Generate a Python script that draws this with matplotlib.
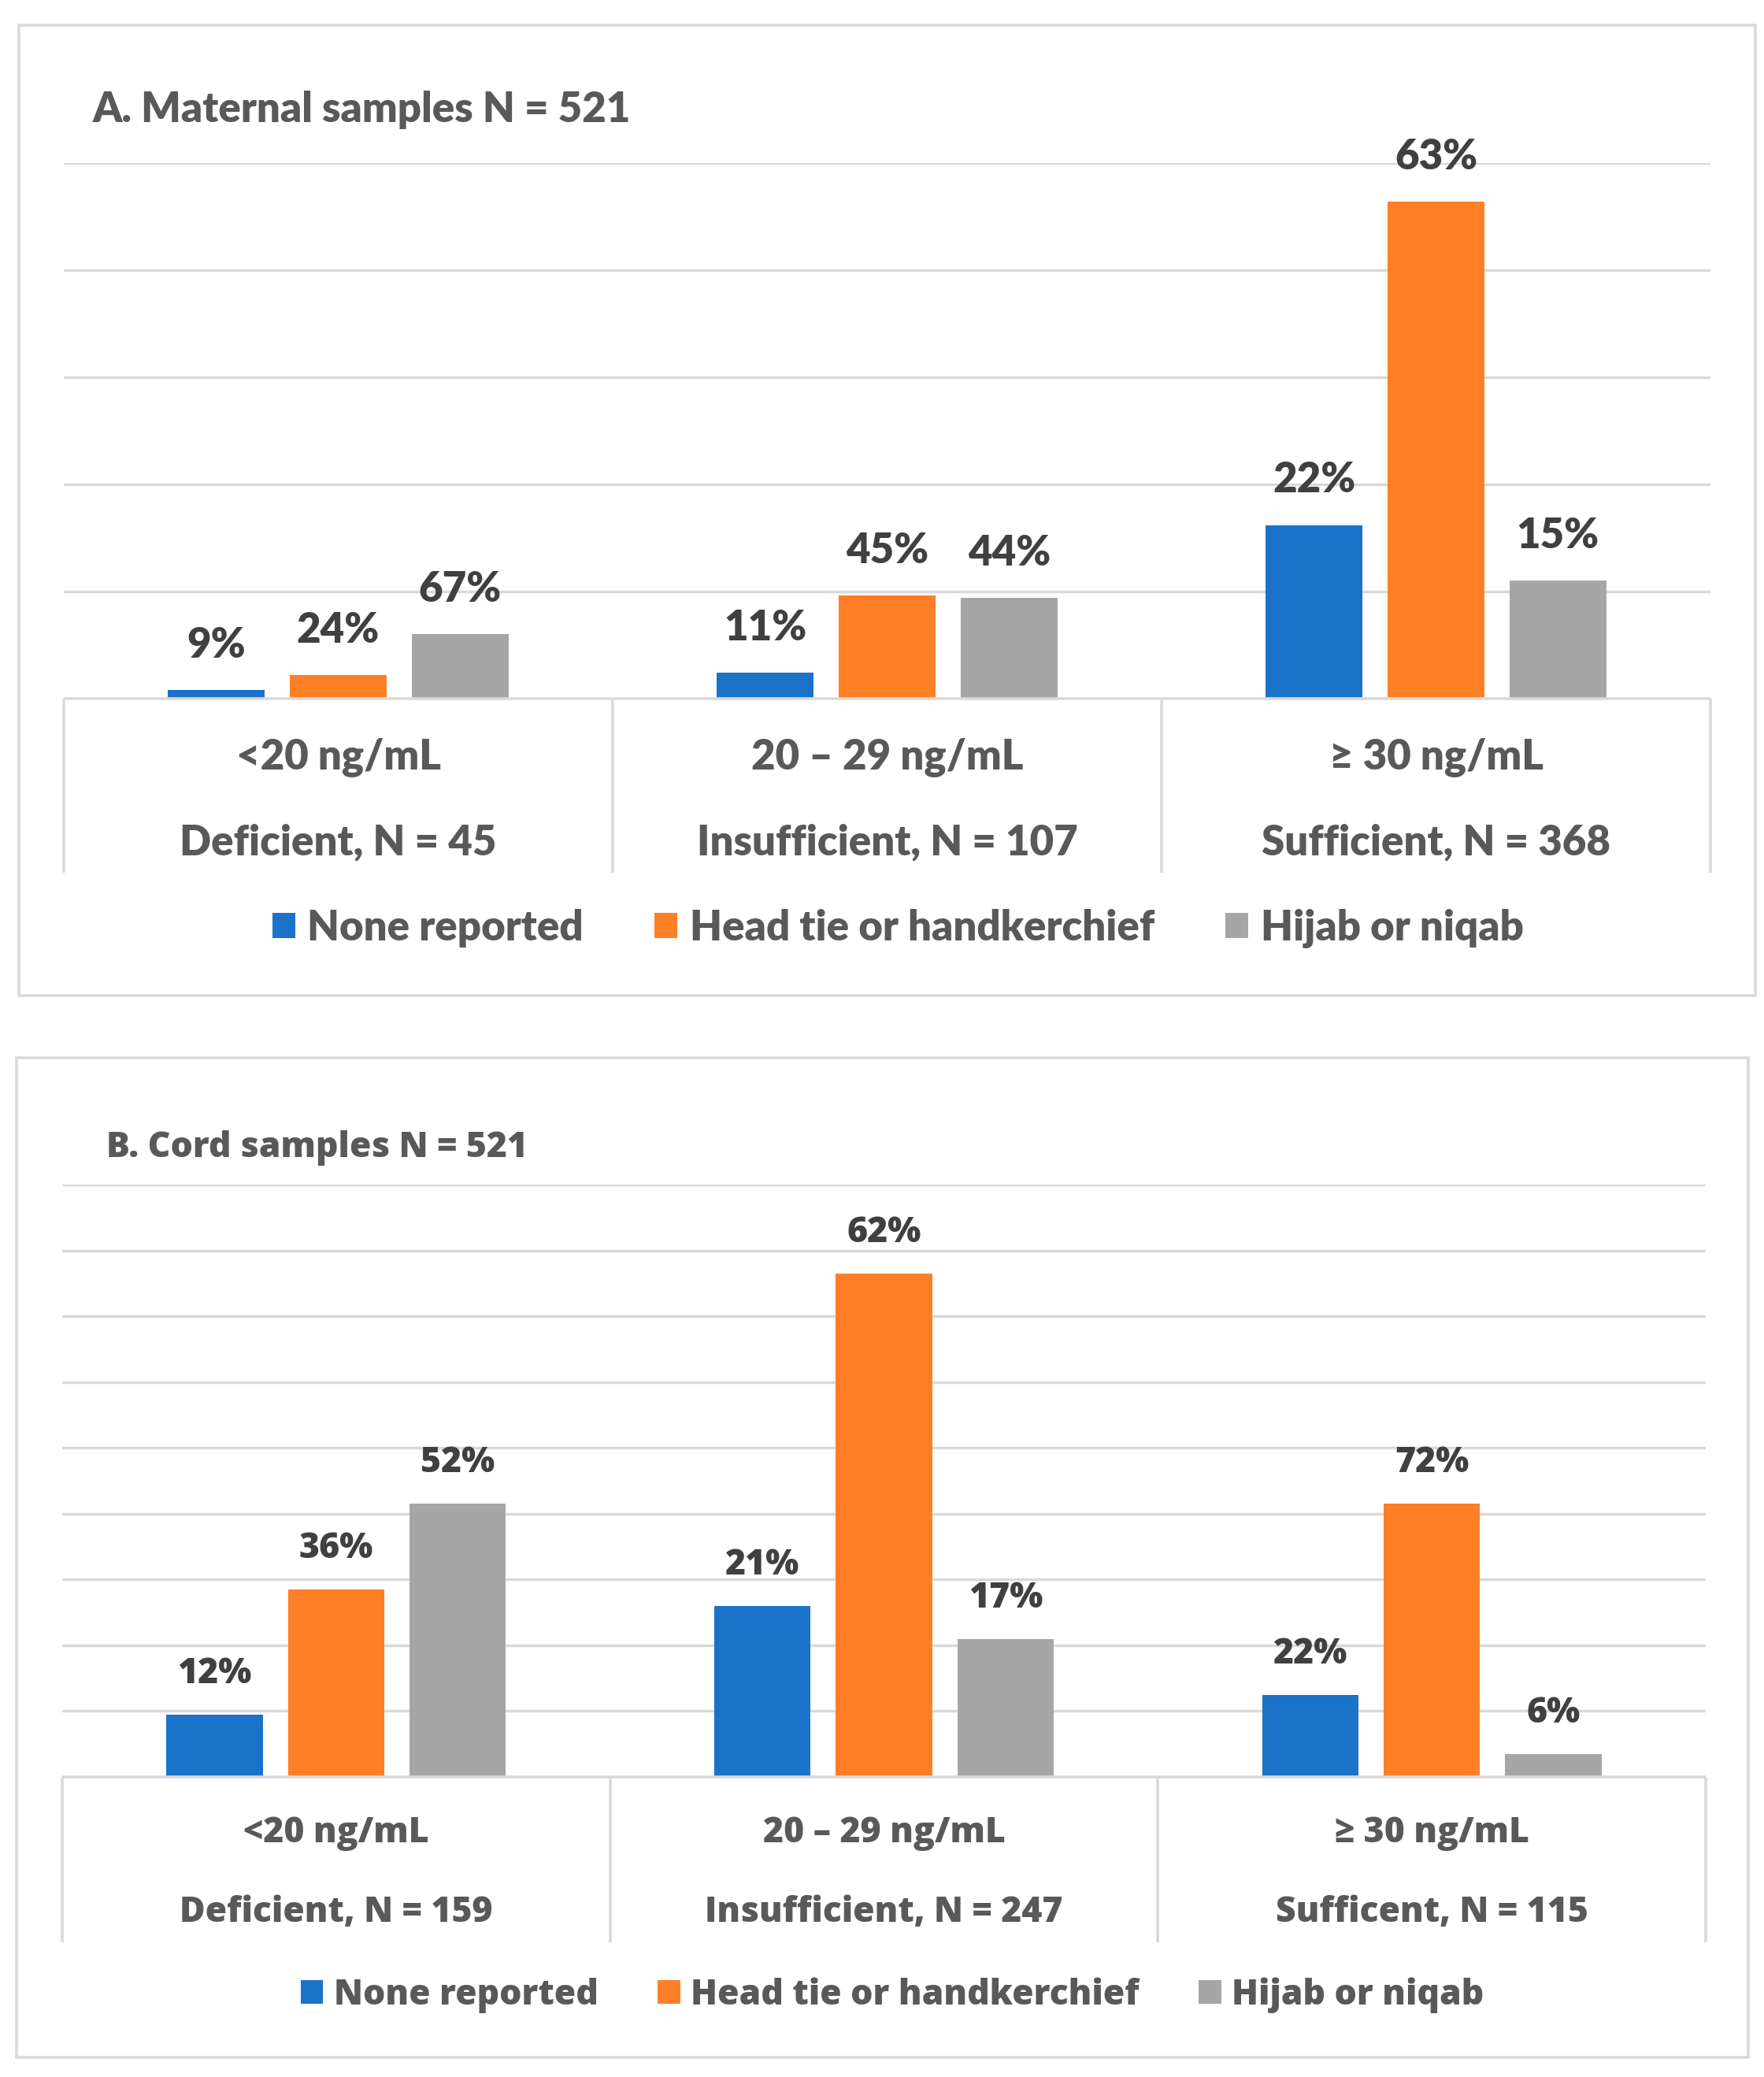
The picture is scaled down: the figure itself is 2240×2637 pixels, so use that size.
import numpy as np
import matplotlib
matplotlib.use("Agg")
import matplotlib.pyplot as plt
from matplotlib.patches import Rectangle, Patch
from matplotlib.transforms import blended_transform_factory

# ---------------- data ----------------
series = ["None reported", "Head tie or handkerchief", "Hijab or niqab"]
colors = ["#1A73C8", "#FF7F27", "#A6A6A6"]

cat_range = ["<20 ng/mL", "20 \u2013 29 ng/mL", "\u2265 30 ng/mL"]

# Panel A: maternal samples (bar heights = counts, labels = % within category)
a_title = "A. Maternal samples N = 521"
a_status = ["Deficient, N = 45", "Insufficient, N = 107", "Sufficient, N = 368"]
a_none = [4, 12, 81]
a_head = [11, 48, 232]
a_hijab = [30, 47, 55]
a_pct_none = ["9%", "11%", "22%"]
a_pct_head = ["24%", "45%", "63%"]
a_pct_hijab = ["67%", "44%", "15%"]

# Panel B: cord samples
b_title = "B. Cord samples N = 521"
b_status = ["Deficient, N = 159", "Insufficient, N = 247", "Sufficent, N = 115"]
b_none = [19, 52, 25]
b_head = [57, 153, 83]
b_hijab = [83, 42, 7]
b_pct_none = ["12%", "21%", "22%"]
b_pct_head = ["36%", "62%", "72%"]
b_pct_hijab = ["52%", "17%", "6%"]

# ---------------- figure ----------------
W, H = 2240, 2637
fig = plt.figure(figsize=(W / 100, H / 100), dpi=100)
fig.patch.set_facecolor("white")

GRID = "#D9D9D9"
TXT = "#595959"
LBL = "#404040"


def fx(x):
    return x / W


def fy(y):
    return 1 - y / H


def panel(border, plot, table_bottom, ymax, ystep, title, title_xy, rows_y,
          legend_xy, vals, pcts, status, family, weight, fs, label_off, colsp, ttl_fs,
          hsize, hpad):
    bx0, by0, bx1, by1 = border
    fig.add_artist(Rectangle((fx(bx0), fy(by1)), fx(bx1) - fx(bx0), fy(by0) - fy(by1),
                             transform=fig.transFigure, fill=False,
                             edgecolor=GRID, linewidth=2.6))
    px0, py_top, px1, py_base = plot
    ax = fig.add_axes([fx(px0), fy(py_base), fx(px1) - fx(px0), fy(py_top) - fy(py_base)])
    ax.set_xlim(-0.5, 2.5)
    ax.set_ylim(0, ymax)
    for s in ax.spines.values():
        s.set_visible(False)
    ax.set_xticks([])
    ax.set_yticks(np.arange(ystep, ymax + 0.1, ystep))
    ax.tick_params(axis="y", length=0, labelleft=False)
    ax.yaxis.grid(True, color=GRID, linewidth=2.5)
    ax.set_axisbelow(True)

    x = np.arange(3)
    w = 0.176
    off = 0.222
    for i in range(3):
        xs = x + (i - 1) * off
        ax.bar(xs, vals[i], width=w, color=colors[i], zorder=3)
        for xi, v, p in zip(xs, vals[i], pcts[i]):
            ax.annotate(p, (xi, v), xytext=(0, label_off), textcoords="offset points",
                        ha="center", va="center", fontsize=fs, fontweight=weight,
                        color=LBL, family=family, annotation_clip=False)

    tr = blended_transform_factory(ax.transData, fig.transFigure)
    ax.plot([-0.5, 2.5], [fy(py_base), fy(py_base)], transform=tr, color=GRID,
            linewidth=2.6, clip_on=False, zorder=4, solid_capstyle="butt")
    for b in [-0.5, 0.5, 1.5, 2.5]:
        ax.plot([b, b], [fy(py_base), fy(table_bottom)], transform=tr, color=GRID,
                linewidth=2.6, clip_on=False, zorder=4, solid_capstyle="butt")
    for i in range(3):
        ax.text(i, fy(rows_y[0]), cat_range[i], transform=tr, ha="center", va="center",
                fontsize=ttl_fs, fontweight=weight, color=TXT, family=family)
        ax.text(i, fy(rows_y[1]), status[i], transform=tr, ha="center", va="center",
                fontsize=ttl_fs, fontweight=weight, color=TXT, family=family)

    fig.text(fx(title_xy[0]), fy(title_xy[1]), title, ha="left", va="center",
             fontsize=ttl_fs, fontweight=weight, color=TXT, family=family)

    handles = [Patch(facecolor=c, edgecolor="none", label=s) for c, s in zip(colors, series)]
    fig.legend(handles=handles, loc="center", bbox_to_anchor=(fx(legend_xy[0]), fy(legend_xy[1])),
               ncol=3, frameon=False, handlelength=hsize, handleheight=hsize,
               handletextpad=hpad, columnspacing=colsp,
               prop={"family": family, "weight": weight, "size": fs},
               labelcolor=TXT)
    return ax


panel(border=(24, 32, 2229, 1264), plot=(81, 207, 2172, 887), table_bottom=1108,
      ymax=250, ystep=50, title=a_title, title_xy=(118, 140), rows_y=(962, 1070),
      legend_xy=(1140, 1179),
      vals=[a_none, a_head, a_hijab], pcts=[a_pct_none, a_pct_head, a_pct_hijab],
      status=a_status, family="Lato", weight="heavy", fs=38, label_off=41, colsp=1.7,
      ttl_fs=38, hsize=0.55, hpad=0.3)

panel(border=(21, 1343, 2220, 2612), plot=(79, 1504, 2166, 2256), table_bottom=2466,
      ymax=180, ystep=20, title=b_title, title_xy=(135, 1457), rows_y=(2328, 2429),
      legend_xy=(1133, 2533),
      vals=[b_none, b_head, b_hijab], pcts=[b_pct_none, b_pct_head, b_pct_hijab],
      status=b_status, family="Open Sans", weight="heavy", fs=32, label_off=37, colsp=1.7,
      ttl_fs=32, hsize=0.64, hpad=0.3)

fig.savefig("out.png", dpi=100, facecolor="white")
